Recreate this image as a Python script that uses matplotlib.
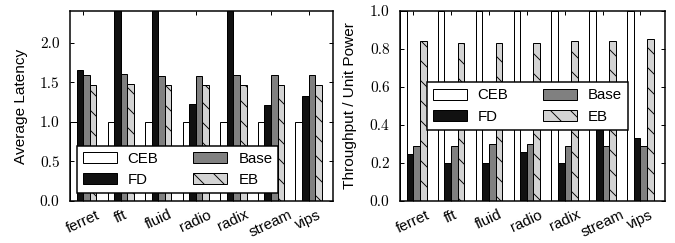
import matplotlib
matplotlib.use('Agg')
import matplotlib.pyplot as plt
import numpy as np

benchmarks = ['ferret', 'fft', 'fluid', 'radio', 'radix', 'stream', 'vips']
series = ['CEB', 'FD', 'Base', 'EB']

# average latency (FD runs off the top for fft / fluid / radix)
lat_ceb = [1.0, 1.0, 1.0, 1.0, 1.0, 1.0, 1.0]
lat_fd = [1.66, 2.9, 2.9, 1.22, 2.9, 1.21, 1.32]
lat_base = [1.59, 1.61, 1.58, 1.58, 1.59, 1.59, 1.59]
lat_eb = [1.47, 1.48, 1.46, 1.46, 1.46, 1.46, 1.46]

# throughput / unit power (CEB reaches the top)
tp_ceb = [1.0, 1.0, 1.0, 1.0, 1.0, 1.0, 1.0]
tp_fd = [0.25, 0.20, 0.20, 0.26, 0.20, 0.38, 0.33]
tp_base = [0.29, 0.29, 0.30, 0.30, 0.29, 0.29, 0.29]
tp_eb = [0.84, 0.83, 0.83, 0.83, 0.84, 0.84, 0.85]

colors = ['white', '#111111', '#808080', '#d3d3d3']
hatches = ['', '', '', '\\']

plt.rcParams['font.family'] = ['Liberation Sans', 'DejaVu Sans']
plt.rcParams['hatch.linewidth'] = 1.1
plt.rcParams['axes.linewidth'] = 1.8

# 60 dpi -> 1 px = 1.2 pt
fig = plt.figure(figsize=(11.25, 4.05), dpi=60)
ax1 = fig.add_axes([0.1037, 0.1728, 0.3896, 0.782])
ax2 = fig.add_axes([0.5926, 0.1728, 0.3926, 0.782])

ind = np.arange(len(benchmarks))
width = 0.175


def draw(ax, data, ylim, ystep, ylabel, label_x, leg_anchor):
    for k, vals in enumerate(data):
        ax.bar(ind + k * width, vals, width, align='edge', color=colors[k],
               edgecolor='black', linewidth=1.2, hatch=hatches[k],
               label=series[k])
    ax.set_xlim(0, len(benchmarks))
    ax.set_ylim(*ylim)
    ax.set_yticks(np.arange(0, ylim[1] + 1e-6, ystep))
    ax.yaxis.set_major_formatter(matplotlib.ticker.FormatStrFormatter('%.1f'))
    ax.set_xticks(ind + 2 * width)
    ax.set_xticklabels(benchmarks, rotation=25, fontsize=18)
    ax.tick_params(direction='in', length=4.8, width=1.2, top=True, right=True)
    ax.tick_params(axis='y', pad=12.5, labelsize=18.5, labelfontfamily='cmr10')
    ax.tick_params(axis='x', pad=8)
    ax.set_ylabel(ylabel, fontsize=18.5)
    ax.yaxis.set_label_coords(label_x, 0.5)
    leg = ax.legend(loc='lower left', bbox_to_anchor=leg_anchor, borderaxespad=0,
                    ncol=2, fontsize=18, handlelength=2.27, handleheight=0.73,
                    handletextpad=0.73, columnspacing=2.33, labelspacing=0.5,
                    borderpad=0.4, fancybox=False, framealpha=1,
                    edgecolor='black')
    leg.get_frame().set_linewidth(1.8)


draw(ax1, [lat_ceb, lat_fd, lat_base, lat_eb], (0, 2.4), 0.5,
     'Average Latency', -0.159, (0.025, 0.042))
draw(ax2, [tp_ceb, tp_fd, tp_base, tp_eb], (0, 1.0), 0.2,
     'Throughput / Unit Power', -0.163, (0.10, 0.374))

fig.savefig('out.png', dpi=60)
